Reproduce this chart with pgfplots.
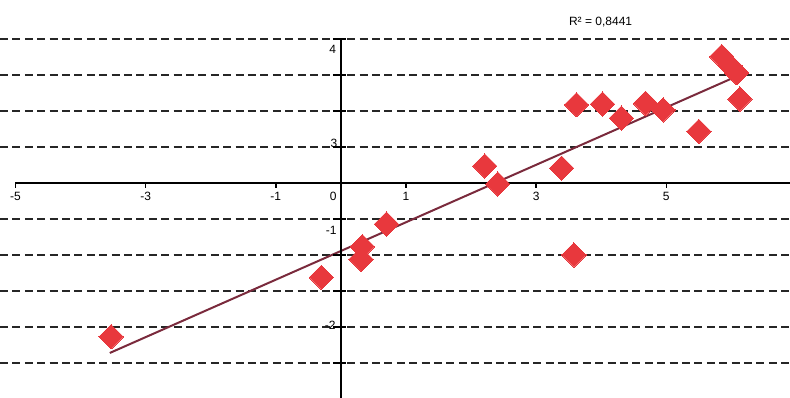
\documentclass[border=0pt]{standalone}
\usepackage{fontspec}
\setmainfont{Liberation Sans}
\usepackage{pgfplots}
\pgfplotsset{compat=1.18}
\definecolor{ptred}{HTML}{E8383D}
\definecolor{trend}{HTML}{7A2A3C}
\begin{document}
\begin{tikzpicture}[font=\fontsize{6}{7}\selectfont]
\begin{axis}[
    scale only axis,
    width=395pt, height=199pt,
    xmin=-5.237, xmax=6.90,
    ymin=-5.97, ymax=5.08,
    axis line style={draw=none},
    xtick=\empty,
    ytick={-5,-4,-3,-2,-1,1,2,3,4},
    yticklabels={},
    major tick length=0pt,
    ymajorgrids,
    grid style={black!85, line width=0.9pt, dash pattern=on 4pt off 2.2pt},
    clip=false,
]
% observations
\addplot[ptred, only marks, mark=square*, mark size=4.3pt,
    mark options={rotate=45, fill=ptred, draw=ptred, line width=0pt}] coordinates {
    (-3.53,-4.27) (-0.30,-2.62) (0.33,-1.77) (0.31,-2.12) (0.70,-1.14)
    (2.21,0.47) (2.41,-0.03) (3.39,0.41) (3.58,-2.00) (3.62,2.17)
    (4.02,2.19) (4.31,1.80) (4.68,2.21) (4.95,2.03) (5.50,1.43)
    (5.85,3.51) (5.98,3.25) (6.08,3.06) (6.13,2.33)
};
% linear trend
\addplot[trend, line width=1pt] coordinates {(-3.55,-4.72) (6.13,3.00)};

% axes through the origin
\draw[black, line width=0.9pt] (axis cs:-5,0) -- (axis cs:6.90,0);
\draw[black, line width=0.9pt] (axis cs:0,4) -- (axis cs:0,-5.97);
\pgfplotsinvokeforeach{-5,-3,-1,1,3,5}{
    \draw[black, line width=0.8pt] (axis cs:#1,0) -- ++(0pt,-2.5pt);
    \node[anchor=north, inner sep=0pt, yshift=-4.5pt] at (axis cs:#1,0) {#1};
}
\pgfplotsinvokeforeach{-5,-4,-3,-2,-1,1,2,3,4}{
    \draw[black, line width=0.9pt] (axis cs:0,#1) ++(-4pt,0pt) -- ++(6.5pt,0pt);
}
\node[anchor=north east, inner sep=0pt] at ([xshift=-2pt, yshift=-4.5pt]axis cs:0,0) {0};
\node[anchor=east, inner sep=0pt] at ([xshift=-2.2pt]axis cs:0,3.72) {4};
\node[anchor=east, inner sep=0pt] at ([xshift=-1.6pt]axis cs:0,1.11) {3};
\node[anchor=east, inner sep=0pt] at ([xshift=-2pt]axis cs:0,-1.31) {-1};
\node[anchor=east, inner sep=0pt] at ([xshift=-2.5pt]axis cs:0,-3.94) {-2};
\node[inner sep=0pt] at (axis cs:3.99,4.47) {R² = 0,8441};
\end{axis}
\pgfresetboundingbox
\path (current axis.south west) rectangle (current axis.north east);
\end{tikzpicture}
\end{document}
